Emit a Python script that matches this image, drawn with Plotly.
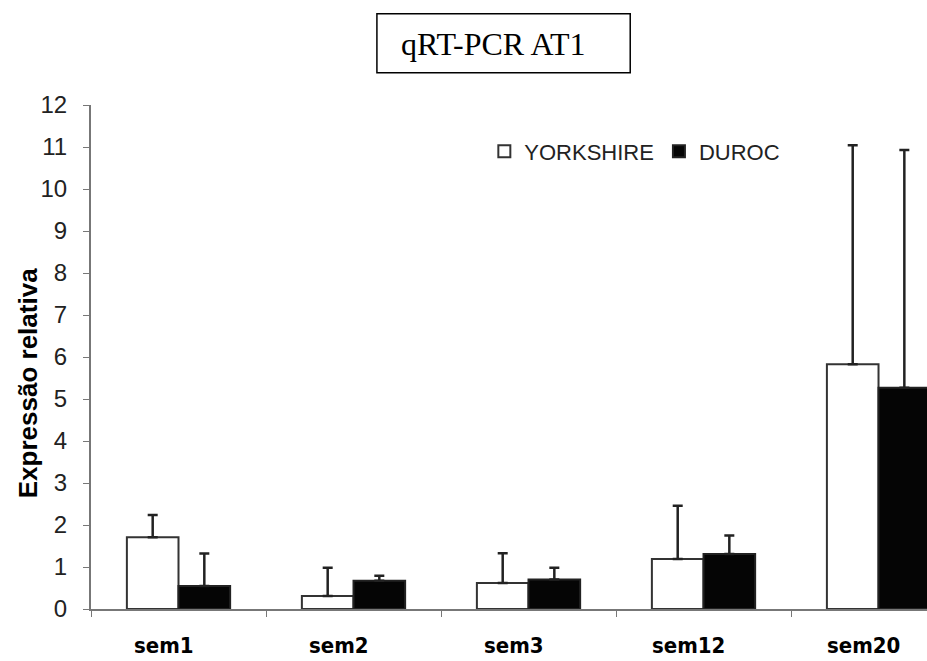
import plotly.graph_objects as go

categories = ["sem1", "sem2", "sem3", "sem12", "sem20"]
yorkshire = [1.71, 0.31, 0.62, 1.19, 5.83]
yorkshire_err = [0.53, 0.67, 0.71, 1.27, 5.21]
duroc = [0.55, 0.67, 0.70, 1.31, 5.27]
duroc_err = [0.77, 0.12, 0.28, 0.44, 5.66]
y_ticks = list(range(0, 13))

fig = go.Figure()
fig.add_trace(go.Bar(
    x=categories, y=yorkshire, name="YORKSHIRE",
    marker=dict(color="white", line=dict(color="#333333", width=2)),
    error_y=dict(type="data", symmetric=False, array=yorkshire_err,
                 arrayminus=[0] * len(yorkshire), color="#222222",
                 thickness=2.5, width=5),
))
fig.add_trace(go.Bar(
    x=categories, y=duroc, name="DUROC",
    marker=dict(color="#050505", line=dict(color="#222222", width=2)),
    error_y=dict(type="data", symmetric=False, array=duroc_err,
                 arrayminus=[0] * len(duroc), color="#222222",
                 thickness=2.5, width=5),
))

annotations = [dict(text="qRT-PCR AT1", xref="paper", yref="paper",
                    x=0.4815, y=1.122, xanchor="center", yanchor="middle",
                    showarrow=False,
                    font=dict(family="Liberation Serif, Times New Roman", size=32, color="black")),
               dict(text="<b>Expressão relativa</b>", xref="paper", yref="paper",
                    x=(28 - 91) / 836, y=(609 - 383) / 504.5, xanchor="center", yanchor="middle",
                    textangle=-90, showarrow=False,
                    font=dict(family="Liberation Sans, Arial", size=26, color="black"))]
for c in categories:
    annotations.append(dict(text=f"<b>{c}</b>", x=c, y=0, xref="x", yref="y",
                            xanchor="center", yanchor="middle", xshift=-15, yshift=-36,
                            showarrow=False,
                            font=dict(family="DejaVu Sans Condensed, DejaVu Sans, Liberation Sans",
                                      size=22, color="black")))

fig.update_layout(
    width=927, height=661,
    margin=dict(l=91, r=0, t=104.5, b=52, pad=0),
    plot_bgcolor="white", paper_bgcolor="white",
    barmode="group", bargap=0.41, bargroupgap=0,
    showlegend=True,
    legend=dict(orientation="h", x=0.4705, y=0.908, xanchor="left", yanchor="middle",
                font=dict(family="Liberation Sans, Arial", size=22, color="#222222"),
                bgcolor="rgba(0,0,0,0)", itemwidth=30, traceorder="normal"),
    xaxis=dict(
        range=[-0.5, 4.277], showline=True, linecolor="#777777", linewidth=2,
        ticks="outside", tickson="boundaries", ticklen=6, tickcolor="#777777",
        showticklabels=False, showgrid=False, zeroline=False,
    ),
    yaxis=dict(
        range=[0, 12], tickvals=y_ticks, showline=True, linecolor="#777777", linewidth=2,
        ticks="outside", ticklen=6, tickcolor="#777777", ticklabelstandoff=11,
        tickfont=dict(family="Liberation Sans, Arial", size=24, color="#222222"),
        showgrid=False, zeroline=False,
    ),
    shapes=[dict(type="rect", xref="paper", yref="paper",
                 x0=0.342, x1=0.645, y0=1.064, y1=1.181,
                 line=dict(color="black", width=1.5), fillcolor="white")],
    annotations=annotations,
)

fig.write_html("out.html")
